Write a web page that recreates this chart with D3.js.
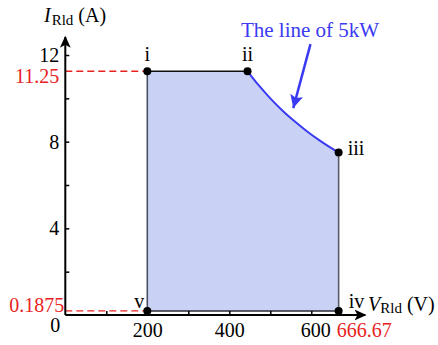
<!DOCTYPE html>
<html>
<head>
<meta charset="utf-8">
<script src="https://cdn.jsdelivr.net/npm/d3@7"></script>
<style>
  html, body { margin: 0; padding: 0; background: #fff; }
  svg { display: block; font-family: "Liberation Serif", "Times New Roman", serif; }
</style>
</head>
<body>
<svg id="chart" width="438" height="345"></svg>
<script>
// Operating region of the load: voltage range, current range, and the 5 kW power limit
const vRange = [200, 666.67];          // V_Rld limits (V)
const iRange = [0.1875, 11.25];        // I_Rld limits (A)
// Constant-power (5 kW) boundary between corners ii and iii
const powerLineV = [444.44, 470, 500, 530, 560, 590, 620, 645, 666.67];
const powerLineI = [11.25, 10.64, 10.0, 9.43, 8.93, 8.47, 8.06, 7.75, 7.5];
// Corner labels and their (V, I) positions
const cornerNames = ["i", "ii", "iii", "iv", "v"];
const cornerV = [200, 444.44, 666.67, 666.67, 200];
const cornerI = [11.25, 11.25, 7.5, 0.1875, 0.1875];
// Axis ticks
const xTicks = [100, 200, 300, 400, 500, 600];
const xTickLabels = [200, 400, 600];
const yTicks = [2, 4, 6, 8, 10, 12];
const yTickLabels = [4, 8, 12];
// Annotation for the power line: text anchor, arrow tail and tip, in (V, I)
const noteText = "The line of 5kW";
const notePos = [597, 12.85];
const arrowTail = [598, 12.5];
const arrowTip = [556, 9.55];

const svg = d3.select("#chart");
const x = d3.scaleLinear().domain([0, 700]).range([65.3, 352.3]);
const y = d3.scaleLinear().domain([0, 12]).range([315, 55]);

const red = "#e8231f";
const blue = "#3a3af2";

// Shaded feasible region
const boundary = [[vRange[0], iRange[0]], [vRange[0], iRange[1]]]
  .concat(powerLineV.map((v, k) => [v, powerLineI[k]]))
  .concat([[vRange[1], iRange[0]]]);
svg.append("path")
  .attr("d", d3.line().x(d => x(d[0])).y(d => y(d[1]))(boundary) + "Z")
  .attr("fill", "#c9d2f5")
  .attr("stroke", "none");

// Region edges
const edge = (a, b, color, w) => svg.append("line")
  .attr("x1", x(a[0])).attr("y1", y(a[1]))
  .attr("x2", x(b[0])).attr("y2", y(b[1]))
  .attr("stroke", color).attr("stroke-width", w);
edge([vRange[0], iRange[0]], [vRange[0], iRange[1]], "#4b4f63", 1.6);
edge([vRange[0], iRange[1]], [powerLineV[0], iRange[1]], "#111", 1.6);
edge([vRange[1], powerLineI[powerLineI.length - 1]], [vRange[1], iRange[0]], "#5a5a66", 1.6);
edge([vRange[0], iRange[0]], [vRange[1], iRange[0]], "#2a2a33", 1.6);

// 5 kW curve
svg.append("path")
  .attr("d", d3.line().x((v) => x(v)).y((v, k) => y(powerLineI[k])).curve(d3.curveMonotoneX)(powerLineV))
  .attr("fill", "none")
  .attr("stroke", blue)
  .attr("stroke-width", 2);

// Red dashed guides to the axes
const dashed = (a, b) => svg.append("line")
  .attr("x1", x(a[0])).attr("y1", y(a[1]))
  .attr("x2", x(b[0])).attr("y2", y(b[1]))
  .attr("stroke", red).attr("stroke-width", 1.3)
  .attr("stroke-dasharray", "7,4");
dashed([0, iRange[1]], [vRange[0], iRange[1]]);
dashed([0, iRange[0]], [vRange[0], iRange[0]]);
dashed([vRange[0], iRange[0]], [vRange[0], 0]);
dashed([vRange[1], iRange[0]], [vRange[1], 0]);

// Axes
const xAxis = d3.axisBottom(x).tickValues(xTicks).tickSizeInner(-4).tickSizeOuter(0).tickPadding(8)
  .tickFormat(d => xTickLabels.includes(d) ? d : "");
const gx = svg.append("g").attr("transform", `translate(0,${y(0)})`).call(xAxis);
gx.select(".domain").remove();
gx.selectAll(".tick line").attr("stroke", "#000").attr("stroke-width", 1.5);
gx.selectAll(".tick text").attr("font-size", 20).attr("font-family", "Liberation Serif").attr("fill", "#000")
  .attr("dx", d => d === 600 ? 4 : 0);

const yAxis = d3.axisLeft(y).tickValues(yTicks).tickSizeInner(-4).tickSizeOuter(0).tickPadding(6)
  .tickFormat(d => yTickLabels.includes(d) ? d : "");
const gy = svg.append("g").attr("transform", `translate(${x(0)},0)`).call(yAxis);
gy.select(".domain").remove();
gy.selectAll(".tick line").attr("stroke", "#000").attr("stroke-width", 1.5);
gy.selectAll(".tick text").attr("font-size", 20).attr("font-family", "Liberation Serif").attr("fill", "#000");

// Axis lines with arrowheads
const defs = svg.append("defs");
defs.append("marker").attr("id", "axisHead")
  .attr("viewBox", "0 0 10 10").attr("refX", 9).attr("refY", 5)
  .attr("markerWidth", 6).attr("markerHeight", 6).attr("markerUnits", "strokeWidth")
  .attr("orient", "auto")
  .append("path").attr("d", "M0,0.5 L10,5 L0,9.5 L2.5,5 Z").attr("fill", "#000");
svg.append("line")
  .attr("x1", x(0)).attr("y1", y(0)).attr("x2", x(0) + 300).attr("y2", y(0))
  .attr("stroke", "#000").attr("stroke-width", 2).attr("marker-end", "url(#axisHead)");
svg.append("line")
  .attr("x1", x(0)).attr("y1", y(0)).attr("x2", x(0)).attr("y2", 37)
  .attr("stroke", "#000").attr("stroke-width", 2).attr("marker-end", "url(#axisHead)");

// Origin label
svg.append("text").attr("x", x(0) - 10).attr("y", 332)
  .attr("text-anchor", "middle").attr("font-size", 20).text("0");

// Red limit values
svg.append("text").attr("x", x(0) - 6).attr("y", y(iRange[1]) + 12)
  .attr("text-anchor", "end").attr("font-size", 20).attr("fill", red).text(iRange[1]);
svg.append("text").attr("x", x(0) - 1).attr("y", y(iRange[0]) + 1)
  .attr("text-anchor", "end").attr("font-size", 20).attr("fill", red).text(iRange[0]);
svg.append("text").attr("x", x(vRange[1]) - 2).attr("y", 337)
  .attr("text-anchor", "start").attr("font-size", 20).attr("fill", red).text(vRange[1]);

// Axis titles
const yTitle = svg.append("text").attr("x", 44).attr("y", 22).attr("font-size", 20);
yTitle.append("tspan").attr("font-style", "italic").text("I");
yTitle.append("tspan").attr("font-size", 15).attr("dy", 3).attr("dx", 1).text("Rld");
yTitle.append("tspan").attr("dy", -3).attr("dx", 5).text("(A)");

const xTitle = svg.append("text").attr("x", 368).attr("y", 311).attr("font-size", 20);
xTitle.append("tspan").attr("font-style", "italic").text("V");
xTitle.append("tspan").attr("font-size", 15).attr("dy", 2).attr("dx", 0).text("Rld");
xTitle.append("tspan").attr("dy", -2).attr("dx", 5).text("(V)");

// Corner points and labels
const labelOffset = {
  i: [0, -10, "middle"], ii: [0, -10, "middle"], iii: [9, 2, "start"],
  iv: [10, -3, "start"], v: [-8, -3, "middle"]
};
cornerNames.forEach((name, k) => {
  const cx = x(cornerV[k]), cy = y(cornerI[k]);
  svg.append("circle").attr("cx", cx).attr("cy", cy).attr("r", 4).attr("fill", "#000");
  const o = labelOffset[name];
  svg.append("text").attr("x", cx + o[0]).attr("y", cy + o[1])
    .attr("text-anchor", o[2]).attr("font-size", 20).text(name);
});

// Annotation arrow for the 5 kW line
defs.append("marker").attr("id", "noteHead")
  .attr("viewBox", "0 0 10 10").attr("refX", 10).attr("refY", 5)
  .attr("markerWidth", 16).attr("markerHeight", 13).attr("markerUnits", "userSpaceOnUse")
  .attr("orient", "auto")
  .append("path").attr("d", "M0,0 L10,5 L0,10 L2,5 Z").attr("fill", blue);
svg.append("line")
  .attr("x1", x(arrowTail[0])).attr("y1", y(arrowTail[1]))
  .attr("x2", x(arrowTip[0])).attr("y2", y(arrowTip[1]))
  .attr("stroke", blue).attr("stroke-width", 2.5).attr("marker-end", "url(#noteHead)");
svg.append("text").attr("x", x(notePos[0])).attr("y", y(notePos[1]))
  .attr("text-anchor", "middle").attr("font-size", 21).attr("fill", blue).text(noteText);
</script>
</body>
</html>
